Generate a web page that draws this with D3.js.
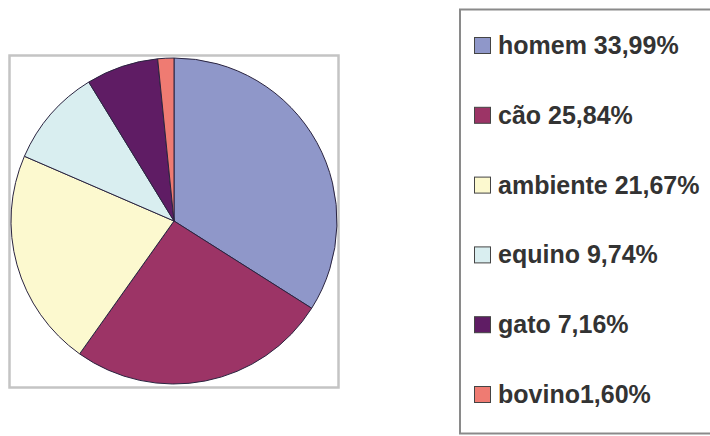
<!DOCTYPE html>
<html>
<head>
<meta charset="utf-8">
<script src="https://cdn.jsdelivr.net/npm/d3@7"></script>
<style>
  body { margin: 0; background: #fff; }
  svg { display: block; }
</style>
</head>
<body>
<svg id="chart" width="710" height="436"></svg>
<script>
// chart data
var categories = ['homem', 'cão', 'ambiente', 'equino', 'gato', 'bovino'];
var values = [33.99, 25.84, 21.67, 9.74, 7.16, 1.60];
var labels = ['homem 33,99%', 'cão 25,84%', 'ambiente 21,67%', 'equino 9,74%', 'gato 7,16%', 'bovino1,60%'];
var colors = ['#8f97c9', '#9c3466', '#fcf9cf', '#d9eef0', '#5f1c64', '#ef7b72'];

var svg = d3.select('#chart');

// plot area frame
svg.append('rect')
  .attr('x', 9.5).attr('y', 55.5)
  .attr('width', 329).attr('height', 332)
  .attr('fill', 'none')
  .attr('stroke', '#c4c4c4')
  .attr('stroke-width', 2.5);

// pie
var pie = d3.pie().sort(null).value((d) => d);
var arc = d3.arc().innerRadius(0).outerRadius(163);

svg.append('g')
  .attr('transform', 'translate(174,221)')
  .selectAll('path')
    .data(pie(values))
    .enter()
    .append('path')
      .attr('d', arc)
      .attr('fill', (d, i) => colors[i])
      .attr('stroke', '#2a2440')
      .attr('stroke-width', 1);

// legend frame
svg.append('rect')
  .attr('x', 460).attr('y', 9.5)
  .attr('width', 260).attr('height', 424)
  .attr('fill', 'none')
  .attr('stroke', '#8a8a8a')
  .attr('stroke-width', 2);

var rowY = d3.scalePoint().domain(categories).range([54, 403]);

var item = svg.append('g')
  .selectAll('g')
    .data(categories)
    .enter()
    .append('g')
      .attr('transform', (d) => 'translate(0,' + rowY(d) + ')');

item.append('rect')
  .attr('x', 474.5).attr('y', -16.5)
  .attr('width', 16).attr('height', 16)
  .attr('fill', (d, i) => colors[i])
  .attr('stroke', '#444')
  .attr('stroke-width', 1);

item.append('text')
  .attr('x', 498)
  .attr('y', 0)
  .attr('font-family', 'Liberation Sans, Arial, sans-serif')
  .attr('font-weight', 'bold')
  .attr('font-size', '25px')
  .attr('fill', '#333')
  .text((d, i) => labels[i]);
</script>
</body>
</html>
